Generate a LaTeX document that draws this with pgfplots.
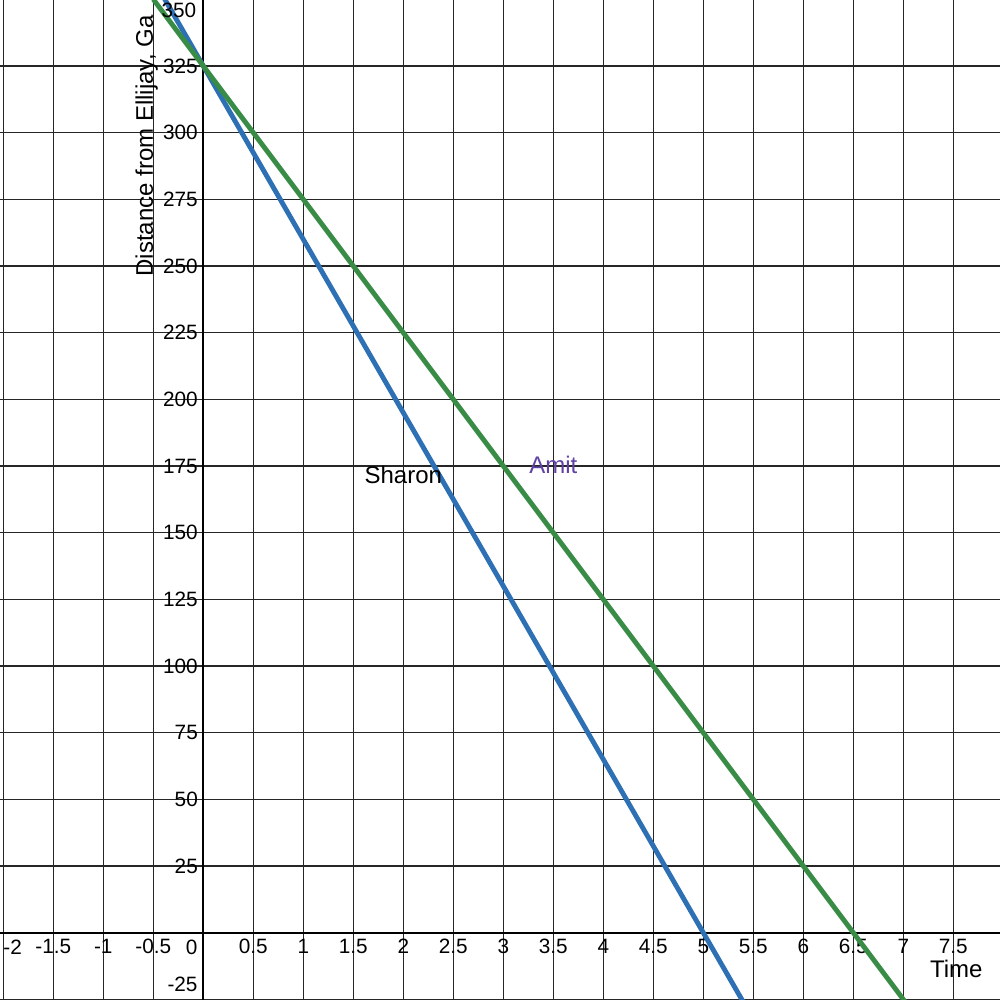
\documentclass[border=0pt]{standalone}
\usepackage{pgfplots}
\pgfplotsset{compat=1.18}
\usepackage{fontspec}
\setmainfont{Liberation Sans}
\definecolor{dblue}{HTML}{2D70B3}
\definecolor{dgreen}{HTML}{388C46}
\definecolor{dpurple}{HTML}{6042A6}
\newcommand{\tickfont}{\fontsize{8.3}{9.5}\selectfont}
\newcommand{\labfont}{\fontsize{9.6}{11}\selectfont}
\begin{document}
\begin{tikzpicture}
\begin{axis}[
  scale only axis,
  width=400pt, height=400pt,
  xmin=-2.033, xmax=7.967,
  ymin=-25.24, ymax=349.75,
  axis lines=middle,
  axis line style={-, black, line width=0.8pt},
  xtick={-2,-1.5,-1,-0.5,0,0.5,1,1.5,2,2.5,3,3.5,4,4.5,5,5.5,6,6.5,7,7.5},
  xticklabels={,-1.5,-1,-0.5,,0.5,1,1.5,2,2.5,3,3.5,4,4.5,5,5.5,6,6.5,7,7.5},
  ytick={-25,25,50,75,100,125,150,175,200,225,250,275,300,325,350},
  yticklabels={,25,50,75,100,125,150,175,200,225,250,275,300,325,},
  major tick length=0pt,
  grid=major,
  major grid style={black!85, line width=0.42pt},
  xticklabel style={font=\tickfont, anchor=base, inner sep=0pt, yshift=-8.5pt},
  yticklabel style={font=\tickfont, anchor=east, inner sep=0pt, xshift=-2pt},
  clip=true,
]
\addplot[dblue, line width=1.95pt] coordinates {(-0.5,357.5) (0,325) (1,260) (2,195) (3,130) (4,65) (5,0) (5.5,-32.5)};
\addplot[dgreen, line width=1.95pt] coordinates {(-0.5,350) (0,325) (1,275) (2,225) (3,175) (4,125) (5,75) (6,25) (6.5,0) (7,-25) (7.5,-50)};
\node[font=\labfont, anchor=base] at (axis cs:2.0,168.3) {Sharon};
\node[font=\labfont, anchor=base, text=dpurple] at (axis cs:3.5,172.3) {Amit};
\node[font=\labfont, anchor=base east, inner sep=0pt] at (axis cs:7.797,-16.9) {Time};
\node[font=\labfont, anchor=base east, rotate=90, inner sep=0pt] at (axis cs:-0.503,344.1) {Distance from Ellijay, Ga};
\node[font=\tickfont, anchor=base west, inner sep=0pt] at (axis cs:-2.003,-8) {-2};
\node[font=\tickfont, anchor=base east, inner sep=0pt] at (axis cs:-0.053,-8) {0};
\node[font=\tickfont, anchor=base east, inner sep=0pt] at (axis cs:-0.053,-22.1) {-25};
\node[font=\tickfont, anchor=base east, inner sep=0pt] at (axis cs:-0.066,343.3) {350};
\coordinate (SW) at (rel axis cs:0,0);
\coordinate (NE) at (rel axis cs:1,1);
\end{axis}
\pgfresetboundingbox
\useasboundingbox (SW) rectangle (NE);
\end{tikzpicture}
\end{document}
